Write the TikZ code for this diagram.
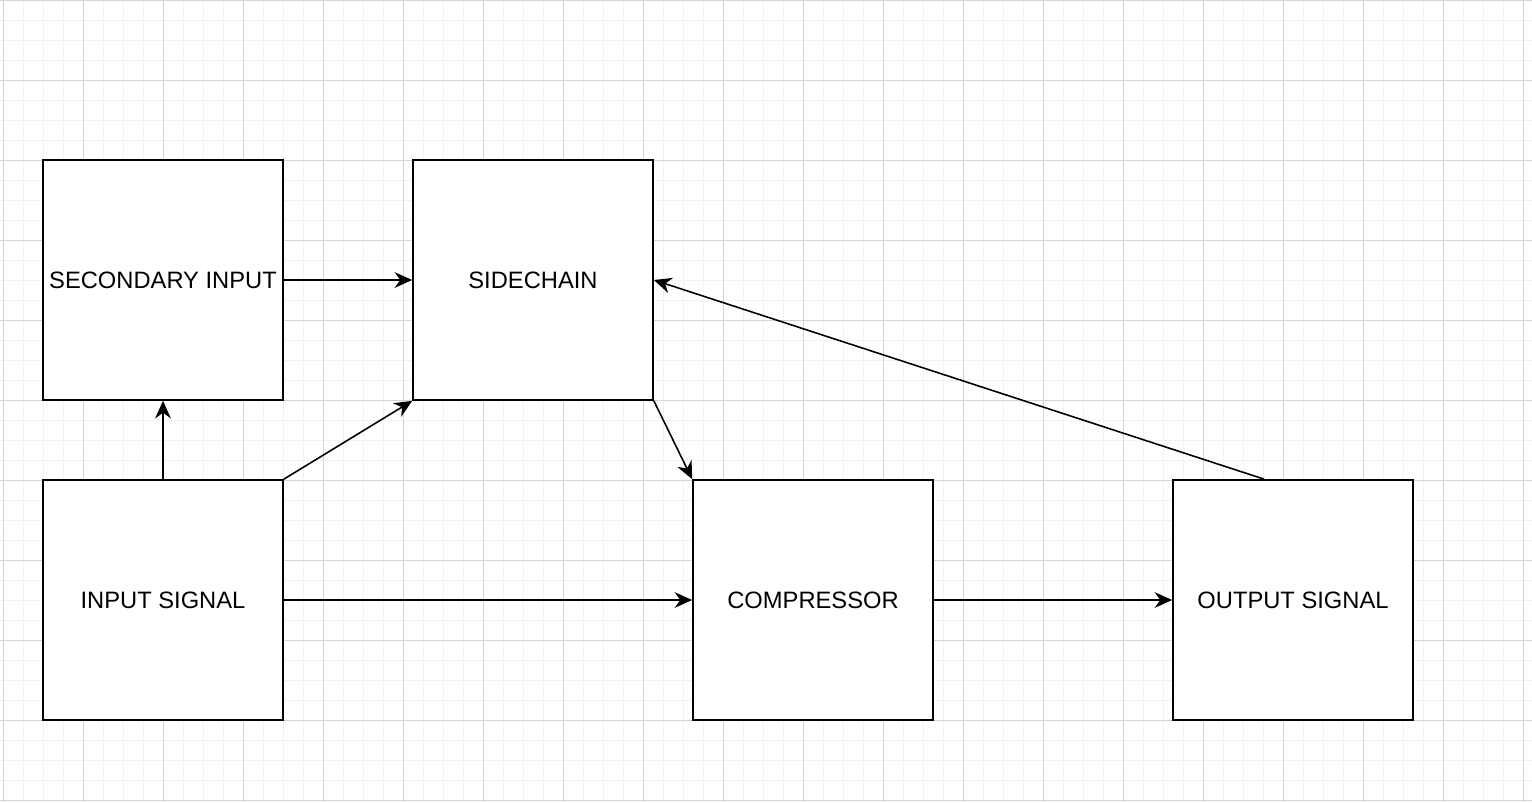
\documentclass[tikz,border=0pt]{standalone}
\usepackage{fontspec}
\setmainfont{Liberation Sans}
\usetikzlibrary{arrows.meta, positioning}

\begin{document}
\begin{tikzpicture}[
    x=0.02cm, y=-0.02cm,
    % Block style
    block/.style={
        rectangle,
        draw=black,
        line width=1pt,
        fill=white,
        minimum width=4.8cm,
        minimum height=4.8cm,
        font=\fontsize{13.5}{16}\selectfont
    },
    % Arrow style
    arrow/.style={
        -{Stealth[length=10pt,width=9pt]},
        line width=0.9pt,
        black
    }
]

% === Background grid ===
\useasboundingbox (0,0) rectangle (1532,802);
\fill[white] (0,0) rectangle (1532,802);
\foreach \x in {3,23,...,1532} \draw[black!5, line width=0.5pt] (\x,0) -- (\x,802);
\foreach \y in {0,20,...,802} \draw[black!5, line width=0.5pt] (0,\y) -- (1532,\y);
\foreach \x in {3,83,...,1532} \draw[black!17, line width=0.5pt] (\x,0) -- (\x,802);
\foreach \y in {0,80,...,802} \draw[black!17, line width=0.5pt] (0,\y) -- (1532,\y);

% === Blocks ===
\node[block] (secondary) at (163,280) {SECONDARY INPUT};
\node[block] (sidechain) at (533,280) {SIDECHAIN};
\node[block] (input) at (163,600) {INPUT SIGNAL};
\node[block] (comp) at (813,600) {COMPRESSOR};
\node[block] (output) at (1293,600) {OUTPUT SIGNAL};

% === Connections ===
\draw[arrow] (input.north) -- (secondary.south);
\draw[arrow] (input.north east) -- (sidechain.south west);
\draw[arrow] (secondary.east) -- (sidechain.west);
\draw[arrow] (sidechain.south east) -- (comp.north west);
\draw[arrow] (input.east) -- (comp.west);
\draw[arrow] (comp.east) -- (output.west);
\draw[arrow] (output.north west) ++(92,0) -- (sidechain.east);

\end{tikzpicture}
\end{document}
